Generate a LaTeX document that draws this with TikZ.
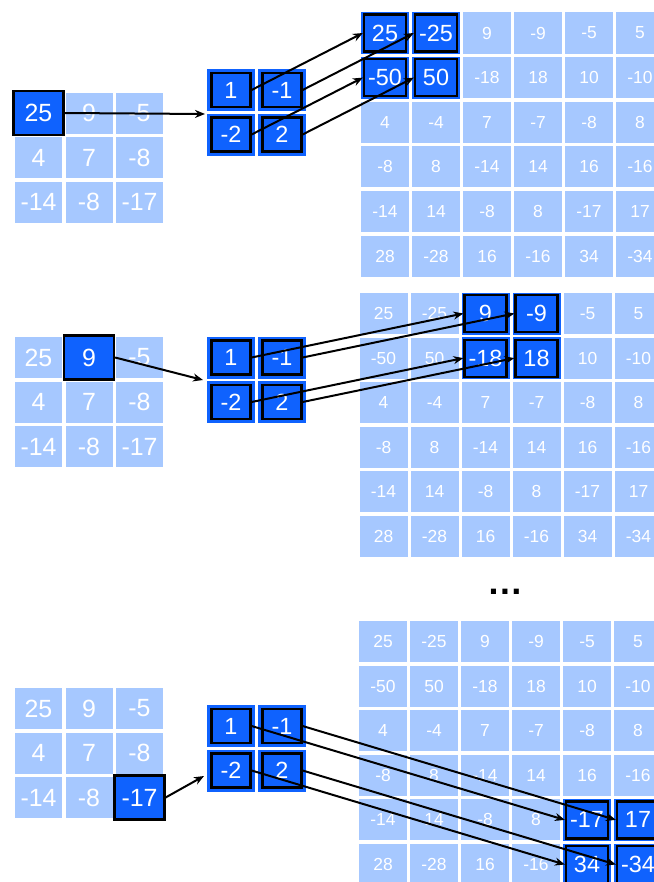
\documentclass[tikz,border=0pt]{standalone}
\usepackage{fontspec}
\setmainfont{Liberation Sans}
\usetikzlibrary{arrows.meta}
\definecolor{lightb}{HTML}{A6C8FF}
\definecolor{darkb}{HTML}{0F62FE}
\newcommand\drawconv[9]{%
  % input grid
  \foreach \r/\vals in {0/{25,9,-5},1/{4,7,-8},2/{-14,-8,-17}}{
    \foreach \v [count=\ci from 0] in \vals {
      \pgfmathtruncatemacro\ishl{(\r==#3)&&(\ci==#4)}
      \ifnum\ishl=1
        \node[ibox] (#1-in-\r-\ci) at (38.5+50.5*\ci, #2+44.5*\r) {\v};
      \else
        \node[incell] (#1-in-\r-\ci) at (38.5+50.5*\ci, #2+44.5*\r) {\v};
      \fi
    }
  }
  % kernel
  \foreach \r/\vals in {0/{1,-1},1/{-2,2}}{
    \foreach \v [count=\ci from 0] in \vals {
      \node[darkcell] (#1-kc-\r-\ci) at (231+51*\ci, #5+44.5*\r) {};
      \node[kbox] (#1-k-\r-\ci) at (231+51*\ci, #5+44.5*\r) {\v};
    }
  }
  % output grid
  \foreach \r/\vals in {0/{25,-25,9,-9,-5,5},1/{-50,50,-18,18,10,-10},2/{4,-4,7,-7,-8,8},3/{-8,8,-14,14,16,-16},4/{-14,14,-8,8,-17,17},5/{28,-28,16,-16,34,-34}}{
    \foreach \v [count=\ci from 0] in \vals {
      \pgfmathtruncatemacro\ishl{(\r>=#8)&&(\r<=#8+1)&&(\ci>=#9)&&(\ci<=#9+1)}
      \ifnum\ishl=1
        \node[darkcell] (#1-oc-\r-\ci) at (#6+51*\ci, #7+44.6*\r) {};
        \node[obox] (#1-out-\r-\ci) at (#6+51*\ci, #7+44.6*\r) {\v};
      \else
        \node[outcell] (#1-out-\r-\ci) at (#6+51*\ci, #7+44.6*\r) {\v};
      \fi
    }
  }
  % kernel -> output arrows
  \foreach \r in {0,1}{
    \foreach \c in {0,1}{
      \pgfmathtruncatemacro\orow{#8+\r}
      \pgfmathtruncatemacro\ocol{#9+\c}
      \draw[arr] (#1-k-\r-\c.east) -- (#1-out-\orow-\ocol.west);
    }
  }
}
\begin{document}
\begin{tikzpicture}[x=1bp,y=-1bp,
  cell/.style={rectangle, inner sep=0pt, minimum width=47bp, minimum height=41bp, fill=lightb, text=white},
  incell/.style={cell, font=\fontsize{25}{25}\selectfont},
  outcell/.style={cell, minimum width=48bp, font=\fontsize{17.5}{17.5}\selectfont},
  darkcell/.style={cell, fill=darkb, minimum width=48bp, minimum height=42bp},
  hlbox/.style={rectangle, inner sep=0pt, draw=black, line width=2.2bp, fill=darkb, text=white, font=\fontsize{23.5}{23.5}\selectfont},
  kbox/.style={hlbox, minimum width=39bp, minimum height=34bp},
  obox/.style={hlbox, minimum width=42bp, minimum height=37bp},
  ibox/.style={hlbox, minimum width=50bp, minimum height=44bp, font=\fontsize{25}{25}\selectfont},
  arr/.style={-{Stealth[length=10bp,width=8bp]}, line width=2bp, black},
]
\path[use as bounding box] (0,0) rectangle (654,882);
\clip (0,0) rectangle (654,882);
% top
\drawconv{t}{113}{0}{0}{90}{385}{33}{0}{0}
\coordinate (t-kin) at (205,114);
\draw[arr] (t-in-0-0.east) -- (t-kin);
% middle
\drawconv{m}{357.5}{0}{1}{357.5}{383.5}{313.5}{0}{2}
\coordinate (m-kin) at (203,380);
\draw[arr] (m-in-0-1.east) -- (m-kin);
% ellipsis
\node[inner sep=0pt, font=\bfseries\fontsize{36}{36}\selectfont] (dots) at (505,592) {…};
% bottom
\drawconv{b}{708.5}{2}{2}{726}{383}{641.5}{4}{4}
\coordinate (b-kin) at (204,776);
\draw[arr] (b-in-2-2.east) -- (b-kin);
\end{tikzpicture}
\end{document}
